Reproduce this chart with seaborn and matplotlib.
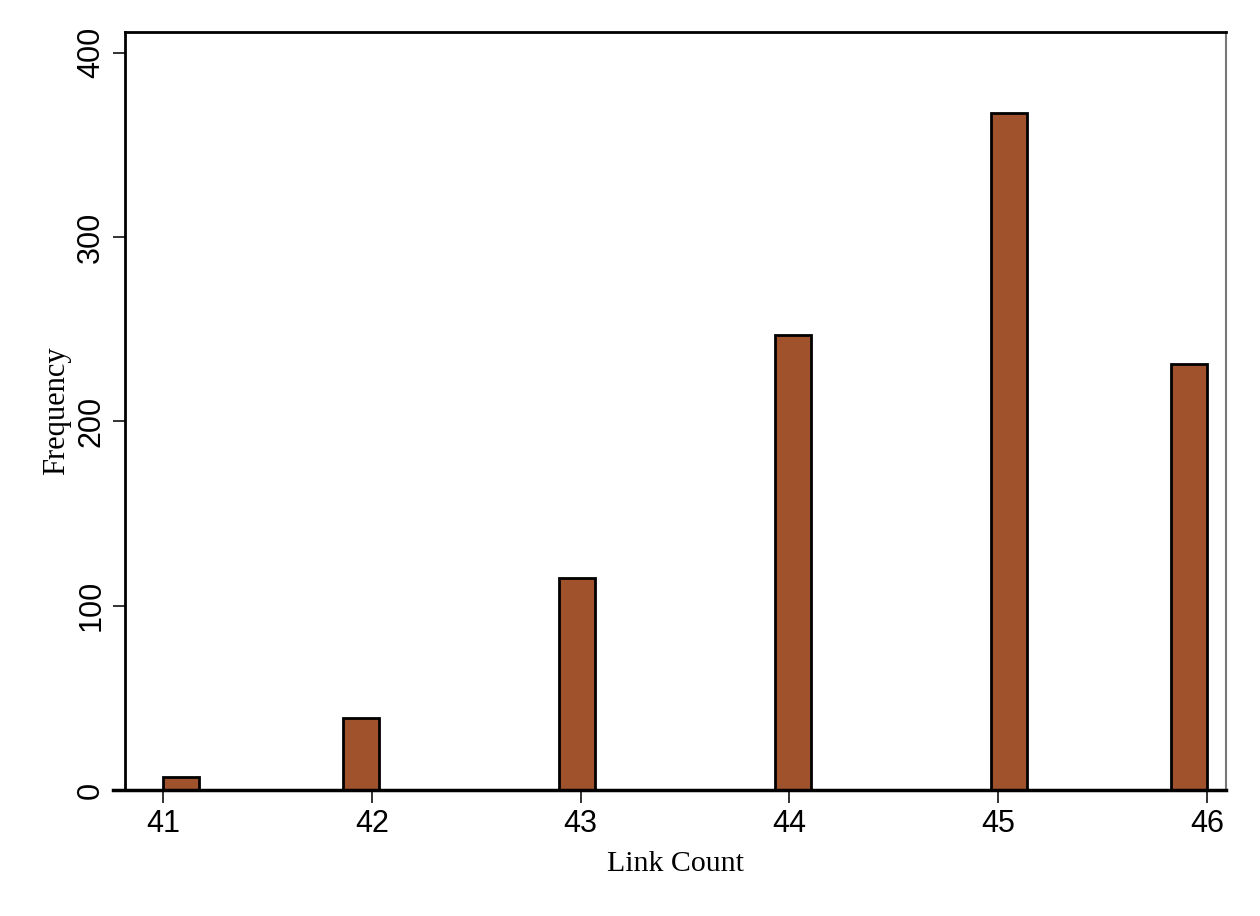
import matplotlib
matplotlib.use("Agg")
import matplotlib.pyplot as plt
import seaborn as sns
import pandas as pd

link_count = [41, 42, 43, 44, 45, 46]
frequency = [7, 39, 115, 247, 367, 231]
x_ticks = [41, 42, 43, 44, 45, 46]
y_ticks = [0, 100, 200, 300, 400]

sns.set_theme(style="white")
plt.rcParams['font.family'] = ['Liberation Sans', 'DejaVu Sans']

df = pd.DataFrame({"Link Count": link_count, "Frequency": frequency})

fig = plt.figure(figsize=(12.6, 9.16), dpi=100)
ax = fig.add_axes([125/1260, 1 - 790/916, (1225.7-125)/1260, (790-32)/916])

sns.histplot(data=df, x="Link Count", weights="Frequency", bins=29, binrange=(41, 46),
             color="#A0522D", alpha=1, edgecolor="black", linewidth=2, ax=ax)

ax.set_xlim(40.818, 46.09)
ax.set_ylim(0, 411.2)
ax.set_xticks(x_ticks)
ax.set_yticks(y_ticks)
ax.set_xticklabels([str(v) for v in x_ticks], fontsize=22, color="black")
ax.set_yticklabels([str(v) for v in y_ticks], fontsize=22, rotation=90, va="center", color="black")
ax.tick_params(axis="both", direction="out", length=9, width=1.3, color="#222222")
ax.tick_params(axis="x", pad=5)
ax.tick_params(axis="y", pad=4.5)
ax.tick_params(axis="both", which="both", bottom=True, left=True)

ax.set_xlabel("Link Count", family=["Liberation Serif"], fontsize=21.5, labelpad=8, color="black")
ax.set_ylabel("Frequency", family=["Liberation Serif"], fontsize=22, labelpad=4, color="black")

for s in ["left", "top"]:
    ax.spines[s].set_color("black")
    ax.spines[s].set_linewidth(2)
ax.spines["right"].set_color("#777777")
ax.spines["right"].set_linewidth(1.5)
ax.spines["bottom"].set_color("black")
ax.spines["bottom"].set_linewidth(2.5)
ax.spines["bottom"].set_bounds(40.76, 46.09)
ax.grid(False)

fig.savefig("out.png", dpi=100, facecolor="white")
